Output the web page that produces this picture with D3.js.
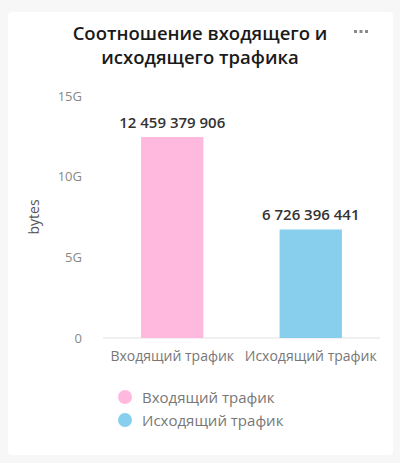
<!DOCTYPE html>
<html><head><meta charset="utf-8">
<script src="https://cdn.jsdelivr.net/npm/d3@7"></script>
<style>
html,body{margin:0;padding:0;background:#f7f7f7;}
svg{display:block;font-family:"Open Sans",sans-serif;}
</style></head>
<body>
<svg id="c" width="400" height="463"></svg>
<script>
const categories = ["Входящий трафик", "Исходящий трафик"];
const values = [12459379906, 6726396441];
const colors = ["#ffb8de", "#87cfed"];
const yTicks = [0, 5e9, 10e9, 15e9];
const yTickLabels = ["0", "5G", "10G", "15G"];
const titleLines = ["Соотношение входящего и", "исходящего трафика"];
const yLabel = "bytes";

const svg = d3.select("#c");
svg.append("rect").attr("x", 8).attr("y", 12).attr("width", 385).attr("height", 443)
  .attr("rx", 4).attr("fill", "#fff");

svg.selectAll("text.title").data(titleLines).enter().append("text")
  .attr("x", 200).attr("y", (d, i) => 40 + i * 24)
  .attr("text-anchor", "middle").attr("font-size", 18.5).attr("font-weight", 600)
  .attr("fill", "#1a1a1a").text(d => d);

svg.selectAll("rect.dot").data([0,1,2]).enter().append("rect")
  .attr("x", d => 354 + d * 5.5).attr("y", 30).attr("width", 3).attr("height", 3)
  .attr("fill", "#8a8a8a");

const x = d3.scaleBand().domain(categories).range([103, 380]).padding(0);
const y = d3.scaleLinear().domain([0, 15e9]).range([338, 96]);

const g = svg.append("g");
g.append("line").attr("x1", 103).attr("x2", 380).attr("y1", y(0)).attr("y2", y(0))
  .attr("stroke", "#e3e3e3").attr("stroke-width", 1);

const yAxis = d3.axisLeft(y).tickValues(yTicks).tickFormat((d, i) => yTickLabels[i]).tickSize(0).tickPadding(0);
const ya = svg.append("g").attr("transform", "translate(82,0)").call(yAxis);
ya.select(".domain").remove();
ya.selectAll("text").attr("font-size", 13).attr("fill", "#888").attr("font-family", "Open Sans, sans-serif");

const bw = x.bandwidth() * 0.45;
g.selectAll("rect.bar").data(values).enter().append("rect")
  .attr("x", (d, i) => x(categories[i]) + x.bandwidth() / 2 - bw / 2)
  .attr("y", d => y(d)).attr("width", bw).attr("height", d => y(0) - y(d))
  .attr("fill", (d, i) => colors[i]);

const fmt = v => d3.format(",")(v).replace(/,/g, " ");
g.selectAll("text.val").data(values).enter().append("text")
  .attr("x", (d, i) => x(categories[i]) + x.bandwidth() / 2)
  .attr("y", d => y(d) - 9).attr("text-anchor", "middle")
  .attr("font-size", 15).attr("font-weight", 600).attr("fill", "#333")
  .text(fmt);

const xAxis = d3.axisBottom(x).tickSize(0).tickPadding(0);
const xa = svg.append("g").attr("transform", "translate(0,351)").call(xAxis);
xa.select(".domain").remove();
xa.selectAll("text").attr("font-size", 14).attr("fill", "#777").attr("font-family", "Open Sans, sans-serif");

svg.append("text").attr("transform", "translate(39,217) rotate(-90)")
  .attr("text-anchor", "middle").attr("font-size", 14).attr("fill", "#555").text(yLabel);

const leg = svg.selectAll("g.leg").data(categories).enter().append("g")
  .attr("transform", (d, i) => `translate(125,${397 + i * 23})`);
leg.append("circle").attr("r", 7).attr("fill", (d, i) => colors[i]);
leg.append("text").attr("x", 17).attr("y", 5.5).attr("font-size", 15).attr("fill", "#777").text(d => d);
</script>
</body></html>
